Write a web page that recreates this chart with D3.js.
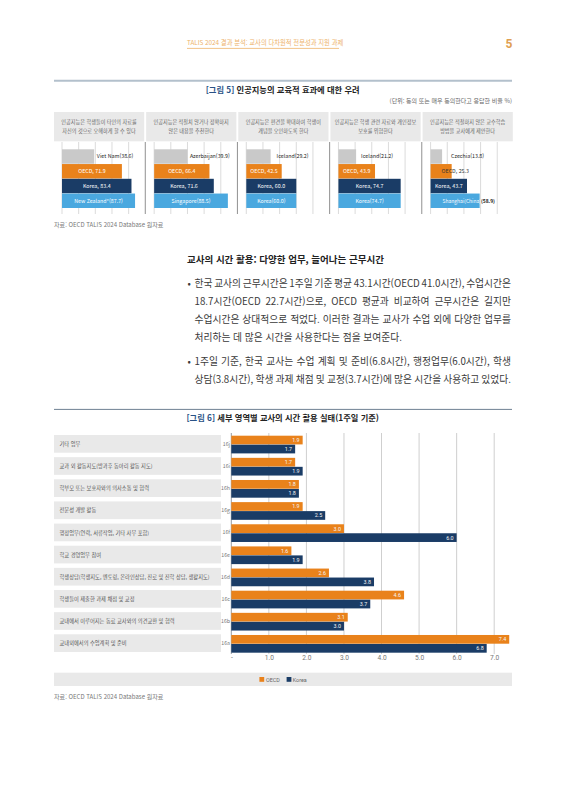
<!DOCTYPE html>
<html lang="ko">
<head>
<meta charset="utf-8">
<script src="https://cdn.jsdelivr.net/npm/d3@7"></script>
<style>
  html, body { margin: 0; padding: 0; background: #fff; }
  svg { display: block; }
  text { font-family: "Noto Sans CJK KR", "Noto Sans", sans-serif; }
  .num { font-family: Roboto, "Noto Sans CJK KR", sans-serif; }
</style>
</head>
<body>
<svg id="page" width="566" height="800"></svg>
<script>
// 그림 5
var f5Headers = [
  ["인공지능은 학생들이 타인의 자료를", "자신의 것으로 오해하게 할 수 있다"],
  ["인공지능은 적절치 않거나 정확하지", "않은 내용을 추천한다"],
  ["인공지능은 편견을 확대하여 학생이", "개념을 오인하도록 한다"],
  ["인공지능은 학생 관련 자료와 개인정보", "보호를 위협한다"],
  ["인공지능은 적절하지 않은 교수학습", "방법을 교사에게 제안한다"]
]
var f5LowName = ["Viet Nam", "Azerbaijan", "Iceland", "Iceland", "Czechia"]
var f5Low = [38.6, 39.9, 29.2, 21.2, 13.8]
var f5Oecd = [71.9, 66.4, 42.5, 43.9, 25.3]
var f5Korea = [83.4, 71.6, 60.0, 74.7, 43.7]
var f5TopName = ["New Zealand*", "Singapore", "Korea", "Korea", "Shanghai(China)"]
var f5Top = [87.7, 88.5, 60.0, 74.7, 58.9]
var f5Ticks = [0, 20, 40, 60, 80, 100]

// 그림 6
var f6Codes = ["16j", "16i", "16h", "16g", "16f", "16e", "16d", "16c", "16b", "16a"]
var f6Labels = [
  "기타 업무",
  "교과 외 활동지도(방과후 동아리 활동 지도)",
  "학부모 또는 보호자와의 의사소통 및 협력",
  "전문성 개발 활동",
  "행정업무(연락, 서류작업, 기타 사무 포함)",
  "학교 경영업무 참여",
  "학생상담(학생지도, 멘토링, 온라인상담, 진로 및 진학 상담, 생활지도)",
  "학생들이 제출한 과제 채점 및 교정",
  "교내에서 이루어지는 동료 교사와의 의견교환 및 협력",
  "교내외에서의 수업계획 및 준비"
]
var f6Oecd = [1.9, 1.7, 1.8, 1.9, 3.0, 1.6, 2.6, 4.6, 3.1, 7.4]
var f6Korea = [1.7, 1.9, 1.8, 2.5, 6.0, 1.9, 3.8, 3.7, 3.0, 6.8]
var f6Ticks = [0, 1, 2, 3, 4, 5, 6, 7]

var bodyLines = [
  "한국 교사의 근무시간은 1주일 기준 평균 43.1시간(OECD 41.0시간), 수업시간은",
  "18.7시간(OECD 22.7시간)으로, OECD 평균과 비교하여 근무시간은 길지만",
  "수업시간은 상대적으로 적었다. 이러한 결과는 교사가 수업 외에 다양한 업무를",
  "처리하는 데 많은 시간을 사용한다는 점을 보여준다.",
  "1주일 기준, 한국 교사는 수업 계획 및 준비(6.8시간), 행정업무(6.0시간), 학생",
  "상담(3.8시간), 학생 과제 채점 및 교정(3.7시간)에 많은 시간을 사용하고 있었다."
]

var orange = "#e9821b", navy = "#1a3c66", sky = "#4aa8df", grey = "#c9c9c9", panel = "#e9e9e9"
var svg = d3.select("#page")

function label(g, x, y, txt, size, color, anchor, weight) {
  return g.append("text").attr("x", x).attr("y", y).text(txt)
    .attr("font-size", size).attr("fill", color)
    .attr("text-anchor", anchor || "start")
    .attr("font-weight", weight || 400)
}

function figTitle(y, num, rest, ruleColor, ruleW) {
  svg.append("line").attr("x1", 54).attr("x2", 512).attr("y1", y).attr("y2", y)
    .attr("stroke", ruleColor).attr("stroke-width", ruleW)
  var t = label(svg, 282.7, y + 11.8, "", 8.25, "#222", "middle", 700)
  t.append("tspan").attr("fill", "#2a5286").text(num + " ")
  t.append("tspan").text(" " + rest)
}

// 머리글
label(svg, 187, 44.5, "TALIS 2024 결과 분석: 교사의 다차원적 전문성과 지원 과제", 6.3, "#edb26a")
svg.append("line").attr("x1", 187).attr("x2", 339).attr("y1", 48.4).attr("y2", 48.4)
  .attr("stroke", "#edb26a").attr("stroke-width", 0.8)
label(svg, 509, 47.5, "5", 12, "#dfa052", "middle", 700).attr("class", "num")

// ---- 그림 5 ----
figTitle(80.8, "[그림 5]", "인공지능의 교육적 효과에 대한 우려", "#b3c0cc", 2)
label(svg, 512, 103, "(단위: 동의 또는 매우 동의한다고 응답한 비율 %)", 6, "#666", "end")

var panelW = 92.15
var lowGap = [2.7, 2.5, 6, 5, 9]
var rowNames = ["low", "oecd", "korea", "top"]
var rowY = d3.scaleBand().domain(rowNames).range([149.3, 208]).paddingInner(0.02)
var rowColor = { low: grey, oecd: orange, korea: navy, top: sky }

f5Headers.forEach(function (head, i) {
  var x0 = 62 + i * panelW
  var x = d3.scaleLinear().domain([0, 100]).range([x0, x0 + 83.3])
  var g = svg.append("g")

  g.append("rect").attr("x", x0 - 8).attr("y", 112).attr("width", 90.2).attr("height", 29.3)
    .attr("fill", panel)
  head.forEach(function (line, k) {
    label(g, x0 + 37, 124.2 + k * 8.8, line, 5.15, "#666", "middle")
  })

  var ticks = i == 4 ? f5Ticks.slice(0, 5) : f5Ticks
  g.selectAll("line.grid").data(ticks).enter().append("line")
    .attr("class", "grid")
    .attr("x1", x).attr("x2", x).attr("y1", 142).attr("y2", 214)
    .attr("stroke", function (d) { return d == 100 ? "#9a9a9a" : "#d2d2d2" })
    .attr("stroke-width", function (d) { return d == 100 ? 1.1 : 0.8 })

  var vals = { low: f5Low[i], oecd: f5Oecd[i], korea: f5Korea[i], top: f5Top[i] }
  g.selectAll("rect.bar").data(rowNames).enter().append("rect")
    .attr("class", "bar")
    .attr("x", x0)
    .attr("y", function (d) { return rowY(d) })
    .attr("width", function (d) { return x(vals[d]) - x0 })
    .attr("height", rowY.bandwidth())
    .attr("fill", function (d) { return rowColor[d] })

  var ty = function (d) { return rowY(d) + rowY.bandwidth() / 2 + 1.9 }
  var mid = function (v) { return (x0 + x(v)) / 2 }

  label(g, x(f5Low[i]) + lowGap[i], ty("low"), f5LowName[i] + "(" + f5Low[i].toFixed(1) + ")", 5.3, "#222")

  if (i == 4) {
    // 막대가 짧아서 글자가 밖으로 나간다
    label(g, x0 + 11, ty("oecd"), "OECD, " + f5Oecd[i].toFixed(1), 5.3, "#333")
    var s = label(g, x0 + 12, ty("top"), "", 4.95, "#fff")
    s.append("tspan").text(f5TopName[i])
    s.append("tspan").attr("fill", "#222").attr("font-weight", 700).text("(" + f5Top[i].toFixed(1) + ")")
  } else {
    label(g, mid(f5Oecd[i]), ty("oecd"), "OECD, " + f5Oecd[i].toFixed(1), 5.3, "#fff", "middle")
    label(g, mid(f5Top[i]), ty("top"), f5TopName[i] + "(" + f5Top[i].toFixed(1) + ")", 5.3, "#fff", "middle")
  }
  label(g, mid(f5Korea[i]), ty("korea"), "Korea, " + f5Korea[i].toFixed(1), 5.3, "#fff", "middle")
})

label(svg, 54, 226.5, "자료: OECD TALIS 2024 Database 원자료", 6.05, "#777")

// ---- 본문 ----
label(svg, 187, 262.8, "교사의 시간 활용: 다양한 업무, 늘어나는 근무시간", 9.5, "#222", "start", 700)
var lineY = [286.8, 305, 323, 341, 365.3, 383]
bodyLines.forEach(function (line, i) {
  var t = label(svg, 194.5, lineY[i], line, 9.75, "#3a3a3a")
  if (i != 3) {
    // 오른쪽 끝 맞춤
    var gaps = line.split(" ").length - 1
    t.style("word-spacing", (511 - 194.5 - t.node().getComputedTextLength()) / gaps + "px")
  }
})
label(svg, 187.5, lineY[0], "•", 9.75, "#3a3a3a")
label(svg, 187.5, lineY[4], "•", 9.75, "#3a3a3a")

// ---- 그림 6 ----
figTitle(409.4, "[그림 6]", "세부 영역별 교사의 시간 활용 실태(1주일 기준)", "#5d7286", 0.9)

var xH = d3.scaleLinear().domain([0, 7]).range([231.3, 494.2])
var yH = d3.scaleBand().domain(f6Codes).range([435, 652]).paddingInner(0.2)
var ySub = d3.scaleBand().domain(["OECD", "Korea"]).range([0.7, 18.4]).paddingInner(0.03)

var rows = svg.append("g")
f6Codes.forEach(function (code, i) {
  rows.append("rect").attr("x", 54).attr("y", yH(code)).attr("width", 167).attr("height", yH.bandwidth())
    .attr("fill", panel)
  label(rows, 59.5, yH(code) + 11, f6Labels[i], 5.25, "#555")
  label(rows, 230, yH(code) + 10.8, code, 5.2, "#777", "end")
})

svg.append("g").selectAll("line").data(f6Ticks).enter().append("line")
  .attr("x1", xH).attr("x2", xH).attr("y1", 433).attr("y2", 654)
  .attr("stroke", function (d) { return d == 0 ? "#8a9199" : "#cfcfcf" })
  .attr("stroke-width", function (d) { return d == 0 ? 0.9 : 1 })

var axis = d3.axisBottom(xH).tickValues(f6Ticks).tickSize(0).tickPadding(0)
  .tickFormat(function (d) { return d == 0 ? "-" : d.toFixed(1) })
var ax = svg.append("g").attr("transform", "translate(0,655.5)").call(axis)
ax.select(".domain").remove()
ax.selectAll("text").attr("class", "num").attr("font-size", 6.6).attr("fill", "#777")
  .attr("font-family", "Roboto, sans-serif")

function bars(name, vals, color) {
  var g = svg.append("g")
  vals.forEach(function (v, i) {
    var y = yH(f6Codes[i]) + ySub(name)
    g.append("rect").attr("x", xH(0)).attr("y", y).attr("width", xH(v) - xH(0)).attr("height", ySub.bandwidth())
      .attr("fill", color)
    label(g, xH(v) - 3, y + ySub.bandwidth() / 2 + 1.9, v.toFixed(1), 5.4, "#f4f4f4", "end").attr("class", "num")
  })
}
bars("OECD", f6Oecd, orange)
bars("Korea", f6Korea, navy)

// 범례
svg.append("rect").attr("x", 54).attr("y", 672.7).attr("width", 458).attr("height", 13.3).attr("fill", panel)
svg.append("rect").attr("x", 259.4).attr("y", 677).attr("width", 4.8).attr("height", 4.8).attr("fill", orange)
label(svg, 266, 681.8, "OECD", 5.4, "#666").attr("class", "num")
svg.append("rect").attr("x", 286.6).attr("y", 677).attr("width", 4.8).attr("height", 4.8).attr("fill", navy)
label(svg, 292.8, 681.8, "Korea", 5.4, "#666").attr("class", "num")

label(svg, 54, 698.5, "자료: OECD TALIS 2024 Database 원자료", 6.05, "#777")
</script>
</body>
</html>
